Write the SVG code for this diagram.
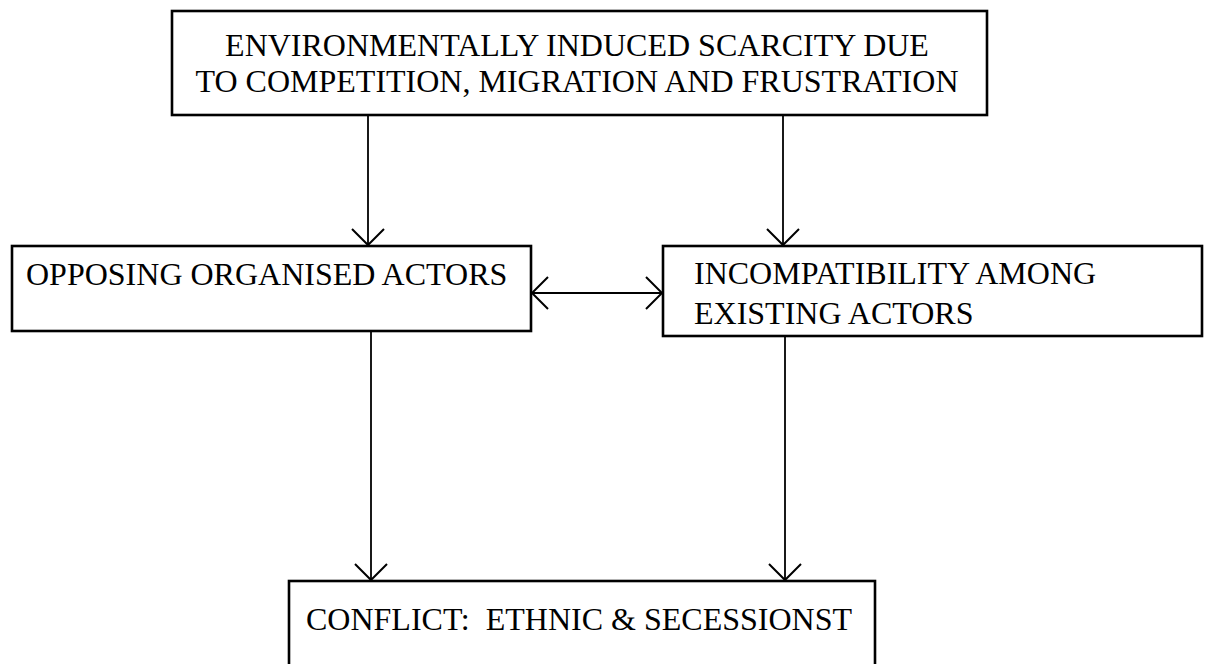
<svg xmlns="http://www.w3.org/2000/svg" width="1209" height="664" viewBox="0 0 1209 664">
  <style>
    .box { fill: #fff; stroke: #000; stroke-width: 2.6; }
    .lbl { font-family: "Liberation Serif", "Times New Roman", serif; font-size: 32px; fill: #000; }
    .conn { stroke: #000; stroke-width: 1.8; fill: none; }
  </style>
  <defs>
    <marker id="arr" viewBox="0 0 20 34" markerWidth="20" markerHeight="34" refX="17" refY="17" orient="auto-start-reverse" markerUnits="userSpaceOnUse">
      <path d="M1,1 L17,17 L1,33" fill="none" stroke="#000" stroke-width="2"/>
    </marker>
  </defs>
  <rect width="1209" height="664" fill="#fff"/>

  <g id="node-scarcity">
    <rect class="box" x="172" y="11" width="815" height="104"/>
    <text class="lbl" x="577" y="56" text-anchor="middle">ENVIRONMENTALLY INDUCED SCARCITY DUE</text>
    <text class="lbl" x="577" y="92" text-anchor="middle">TO COMPETITION, MIGRATION AND FRUSTRATION</text>
  </g>

  <g id="node-opposing">
    <rect class="box" x="12" y="246" width="519" height="85"/>
    <text class="lbl" x="26" y="285">OPPOSING ORGANISED ACTORS</text>
  </g>

  <g id="node-incompatibility">
    <rect class="box" x="663" y="246" width="539" height="90"/>
    <text class="lbl" x="694" y="284">INCOMPATIBILITY AMONG</text>
    <text class="lbl" x="694" y="324">EXISTING ACTORS</text>
  </g>

  <g id="node-conflict">
    <rect class="box" x="289" y="581" width="586" height="100"/>
    <text class="lbl" x="306" y="630" xml:space="preserve">CONFLICT:  ETHNIC &amp; SECESSIONST</text>
  </g>

  <g id="connectors">
    <line class="conn" x1="368" y1="116" x2="368" y2="245" marker-end="url(#arr)"/>
    <line class="conn" x1="783" y1="116" x2="783" y2="245" marker-end="url(#arr)"/>
    <line class="conn" x1="532" y1="293" x2="662" y2="293" marker-start="url(#arr)" marker-end="url(#arr)"/>
    <line class="conn" x1="371" y1="332" x2="371" y2="580" marker-end="url(#arr)"/>
    <line class="conn" x1="785" y1="337" x2="785" y2="580" marker-end="url(#arr)"/>
  </g>
</svg>
